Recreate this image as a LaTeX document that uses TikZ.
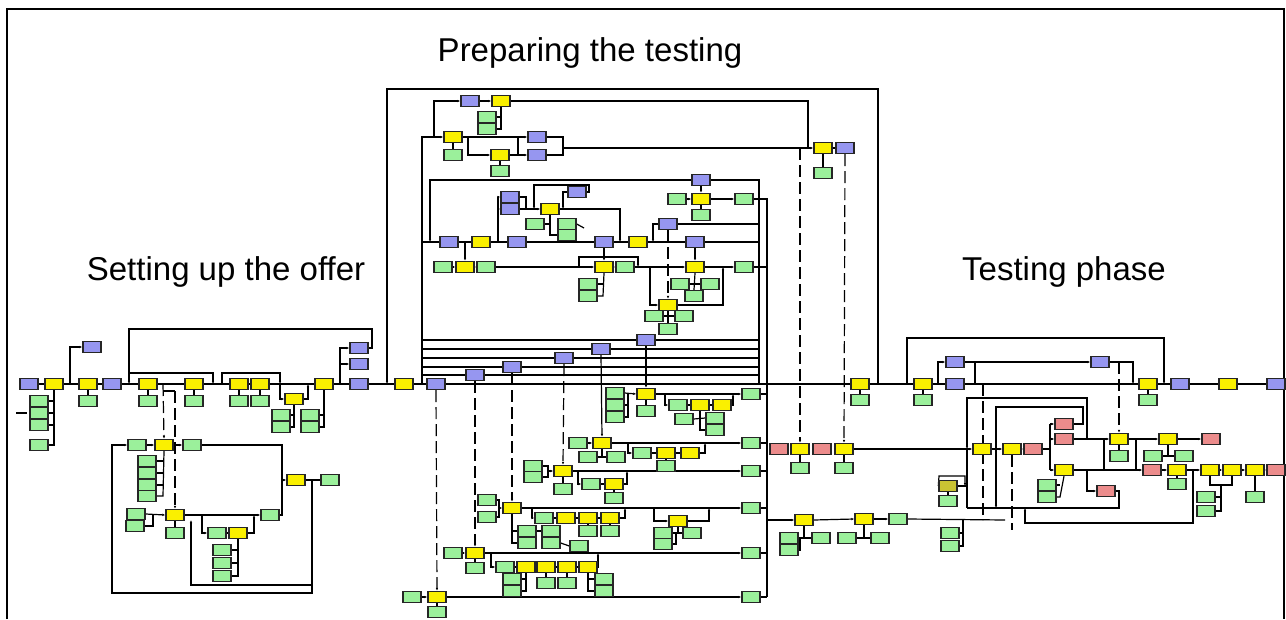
\documentclass[tikz,border=0pt]{standalone}
\usepackage{fontspec}
\setmainfont{Liberation Sans}
\usetikzlibrary{arrows.meta,backgrounds}
\definecolor{cb}{RGB}{150,150,240}
\definecolor{cy}{RGB}{250,240,0}
\definecolor{cg}{RGB}{155,240,155}
\definecolor{cr}{RGB}{236,140,140}
\newcommand\mkbox[4]{\node[#1] (#2) at (#3,#4) {};}
\tikzset{
  box/.style={draw=black!85, line width=1.4pt, minimum width=18pt, minimum height=11pt, inner sep=0pt},
  bb/.style={box, fill=cb},
  yb/.style={box, fill=cy},
  gb/.style={box, fill=cg},
  rb/.style={box, fill=cr},
  ln/.style={line width=1.2pt},
  dsh/.style={line width=1.2pt, dash pattern=on 12pt off 5pt},
  ttl/.style={font=\fontsize{33pt}{38pt}\selectfont, inner sep=0pt},
  >={Latex[length=3pt,width=2.6pt]}
}
\begin{document}
\begin{tikzpicture}[x=1pt,y=-1pt]
\useasboundingbox (0,0) rectangle (1286,619);
\draw[line width=1.2pt] (7,619) -- (7,9) -- (1284,9) -- (1284,619);
\node[ttl] (tprep) at (590,53) {Preparing the testing};
\node[ttl] (tset) at (226,272) {Setting up the offer};
\node[ttl] (ttest) at (1064,272) {Testing phase};

% ---------------- Setting up the offer
\mkbox{bb}{s1}{29}{384}
\mkbox{yb}{s2}{54}{384}
\mkbox{bb}{s3}{92}{347}
\mkbox{yb}{s4}{88}{384} \mkbox{gb}{s4g}{88}{401}
\mkbox{bb}{s5}{112}{384}
\mkbox{yb}{s6}{148}{384} \mkbox{gb}{s6g}{148}{401}
\mkbox{yb}{s7}{194}{384} \mkbox{gb}{s7g}{194}{401}
\mkbox{yb}{s8}{239}{384} \mkbox{gb}{s8g}{239}{401}
\mkbox{yb}{s9}{260}{384} \mkbox{gb}{s9g}{260}{401}
\mkbox{yb}{s10}{294}{399}
\mkbox{gb}{s10a}{281}{415} \mkbox{gb}{s10b}{281}{427}
\mkbox{gb}{s10c}{310}{415} \mkbox{gb}{s10d}{310}{427}
\mkbox{yb}{s11}{324}{384}
\mkbox{bb}{s12}{359}{348} \mkbox{bb}{s13}{359}{364} \mkbox{bb}{s14}{359}{384}
\mkbox{gb}{g1}{39}{401} \mkbox{gb}{g2}{39}{413} \mkbox{gb}{g3}{39}{425} \mkbox{gb}{g4}{39}{445}
% lower loop
\mkbox{gb}{l1}{137}{445} \mkbox{yb}{l2}{164}{445} \mkbox{gb}{l3}{192}{445}
\mkbox{gb}{l4}{147}{461} \mkbox{gb}{l5}{147}{473} \mkbox{gb}{l6}{147}{485} \mkbox{gb}{l7}{147}{496}
\mkbox{yb}{l8}{296}{480} \mkbox{gb}{l9}{330}{480}
\mkbox{yb}{l10}{175}{515} \mkbox{gb}{l11}{175}{533}
\mkbox{gb}{l12}{136}{514} \mkbox{gb}{l13}{135}{526}
\mkbox{gb}{l14}{270}{515}
\mkbox{gb}{l15}{217}{533} \mkbox{yb}{l16}{238}{533}
\mkbox{gb}{l17}{222}{550} \mkbox{gb}{l18}{222}{563} \mkbox{gb}{l19}{222}{576}

% ---------------- Preparing the testing
\mkbox{bb}{p1}{470}{101} \mkbox{yb}{p2}{501}{101}
\mkbox{gb}{p3}{487}{117} \mkbox{gb}{p4}{487}{129}
\mkbox{yb}{p5}{453}{137} \mkbox{gb}{p6}{453}{155}
\mkbox{bb}{p7}{537}{137} \mkbox{yb}{p8}{500}{155} \mkbox{gb}{p9}{500}{171} \mkbox{bb}{p10}{537}{155}
\mkbox{yb}{p11}{823}{148} \mkbox{bb}{p12}{845}{148} \mkbox{gb}{p13}{823}{173}
% row 242
\mkbox{bb}{q1}{449}{242} \mkbox{yb}{q2}{481}{242} \mkbox{bb}{q3}{517}{242}
\mkbox{bb}{q4}{604}{242} \mkbox{yb}{q5}{638}{242} \mkbox{bb}{q6}{695}{242}
% upper cluster
\mkbox{bb}{u1}{510}{197} \mkbox{bb}{u2}{510}{209} \mkbox{yb}{u3}{550}{209} \mkbox{bb}{u4}{577}{192}
\mkbox{gb}{u5}{535}{224} \mkbox{gb}{u6}{567}{224} \mkbox{gb}{u7}{567}{235}
\mkbox{gb}{u8}{677}{199} \mkbox{yb}{u9}{701}{199} \mkbox{gb}{u10}{744}{199}
\mkbox{bb}{u11}{701}{180} \mkbox{gb}{u12}{701}{215} \mkbox{bb}{u13}{668}{224}
% row 267
\mkbox{gb}{r1}{443}{267} \mkbox{yb}{r2}{465}{267} \mkbox{gb}{r3}{486}{267}
\mkbox{yb}{r4}{604}{267} \mkbox{gb}{r5}{625}{267} \mkbox{yb}{r6}{695}{267} \mkbox{gb}{r7}{744}{267}
\mkbox{gb}{r8}{588}{284} \mkbox{gb}{r9}{588}{296}
\mkbox{yb}{r10}{668}{305} \mkbox{gb}{r11}{654}{316} \mkbox{gb}{r12}{684}{316} \mkbox{gb}{r13}{668}{329}
\mkbox{gb}{r14}{680}{284} \mkbox{gb}{r15}{710}{284} \mkbox{gb}{r16}{694}{296}
% blues on horizontal lines
\mkbox{bb}{h1}{646}{340} \mkbox{bb}{h2}{601}{349} \mkbox{bb}{h3}{564}{358}
\mkbox{bb}{h4}{512}{367} \mkbox{bb}{h5}{475}{375}
\mkbox{yb}{m1}{404}{384} \mkbox{bb}{m2}{436}{384}
% row A
\mkbox{yb}{a1}{646}{394} \mkbox{gb}{a2}{646}{411}
\mkbox{gb}{a3}{615}{393} \mkbox{gb}{a4}{615}{405} \mkbox{gb}{a5}{615}{417}
\mkbox{gb}{a6}{751}{394}
\mkbox{gb}{a7}{678}{405} \mkbox{yb}{a8}{700}{405} \mkbox{yb}{a9}{722}{405}
\mkbox{gb}{a10}{684}{419} \mkbox{gb}{a11}{715}{418} \mkbox{gb}{a12}{715}{430}
% row B
\mkbox{yb}{b1}{602}{443} \mkbox{gb}{b2}{578}{443} \mkbox{gb}{b3}{588}{457} \mkbox{gb}{b4}{616}{457}
\mkbox{gb}{b5}{751}{443}
\mkbox{gb}{b6}{642}{453} \mkbox{yb}{b7}{666}{453} \mkbox{yb}{b8}{690}{453} \mkbox{gb}{b9}{666}{466}
% row C
\mkbox{yb}{c1}{563}{471} \mkbox{gb}{c2}{533}{466} \mkbox{gb}{c3}{533}{477} \mkbox{gb}{c4}{563}{489}
\mkbox{gb}{c5}{751}{471}
\mkbox{gb}{c6}{591}{484} \mkbox{yb}{c7}{614}{484} \mkbox{gb}{c8}{614}{498}
% row D
\mkbox{yb}{d1}{512}{508} \mkbox{gb}{d2}{487}{500} \mkbox{gb}{d3}{487}{517}
\mkbox{gb}{d4}{751}{508}
\mkbox{gb}{d5}{544}{518} \mkbox{yb}{d6}{566}{518} \mkbox{yb}{d7}{588}{518} \mkbox{yb}{d8}{610}{518}
\mkbox{gb}{d9}{527}{531} \mkbox{gb}{d10}{527}{543} \mkbox{gb}{d11}{551}{531} \mkbox{gb}{d12}{551}{543}
\mkbox{gb}{d13}{579}{546} \mkbox{gb}{d14}{588}{531} \mkbox{gb}{d15}{610}{531}
\mkbox{yb}{d16}{678}{521} \mkbox{gb}{d17}{663}{533} \mkbox{gb}{d18}{663}{544} \mkbox{gb}{d19}{692}{533}
% row E
\mkbox{yb}{e1}{475}{553} \mkbox{gb}{e2}{453}{553} \mkbox{gb}{e3}{475}{568}
\mkbox{gb}{e4}{751}{553}
\mkbox{gb}{e5}{505}{567} \mkbox{yb}{e6}{526}{567} \mkbox{yb}{e7}{546}{567} \mkbox{yb}{e8}{567}{567} \mkbox{yb}{e9}{588}{567}
\mkbox{gb}{e10}{512}{579} \mkbox{gb}{e11}{512}{591} \mkbox{gb}{e12}{546}{583} \mkbox{gb}{e13}{567}{583}
\mkbox{gb}{e14}{604}{579} \mkbox{gb}{e15}{604}{591}
% row F
\mkbox{yb}{f1}{437}{597} \mkbox{gb}{f2}{412}{597} \mkbox{gb}{f3}{437}{612} \mkbox{gb}{f4}{751}{597}

% ---------------- Testing phase
\mkbox{yb}{t1}{860}{384} \mkbox{gb}{t1g}{860}{400}
\mkbox{yb}{t2}{923}{384} \mkbox{gb}{t2g}{923}{400}
\mkbox{bb}{t3}{955}{362} \mkbox{bb}{t4}{955}{384}
\mkbox{bb}{t5}{1100}{362}
\mkbox{yb}{t6}{1148}{384} \mkbox{gb}{t6g}{1148}{400}
\mkbox{bb}{t7}{1180}{384} \mkbox{yb}{t8}{1228}{384} \mkbox{bb}{t9}{1276}{384}
\mkbox{rb}{w1}{779}{449} \mkbox{yb}{w2}{800}{449} \mkbox{rb}{w3}{822}{449} \mkbox{yb}{w4}{844}{449}
\mkbox{gb}{w2g}{800}{468} \mkbox{gb}{w4g}{844}{468}
\mkbox{yb}{w5}{982}{449} \mkbox{yb}{w6}{1012}{449} \mkbox{rb}{w7}{1033}{449}
\mkbox{rb}{w8}{1064}{424} \mkbox{rb}{w9}{1064}{439} \mkbox{yb}{w10}{1064}{470}
\mkbox{gb}{w11}{1047}{485} \mkbox{gb}{w12}{1047}{497} \mkbox{rb}{w13}{1106}{491}
\mkbox{yb}{w14}{1119}{439} \mkbox{gb}{w15}{1119}{456}
\mkbox{yb}{w16}{1168}{439} \mkbox{rb}{w17}{1211}{439}
\mkbox{gb}{w18}{1153}{456} \mkbox{gb}{w19}{1184}{456}
\mkbox{rb}{w20}{1152}{470} \mkbox{yb}{w21}{1177}{470} \mkbox{gb}{w22}{1177}{484}
\mkbox{yb}{w23}{1210}{470} \mkbox{yb}{w24}{1232}{470} \mkbox{yb}{w25}{1255}{470} \mkbox{rb}{w26}{1276}{470}
\mkbox{gb}{w27}{1206}{497} \mkbox{gb}{w28}{1206}{511} \mkbox{gb}{w29}{1255}{497}
\mkbox{yb}{v1}{804}{520} \mkbox{yb}{v2}{864}{519} \mkbox{gb}{v3}{898}{519}
\mkbox{gb}{v4}{789}{538} \mkbox{gb}{v5}{789}{550} \mkbox{gb}{v6}{821}{538}
\mkbox{gb}{v7}{847}{538} \mkbox{gb}{v8}{880}{538}
\mkbox{gb}{v9}{950}{533} \mkbox{gb}{v10}{950}{546}
\node[box, fill=cy!60!gray] (v11) at (948,486) {};
\mkbox{gb}{v12}{948}{501}

\begin{pgfonlayer}{background}
% main line
\draw[ln] (s1.east) -- (t9.west);
% setting up
\draw[ln] (s2.south) -- (54,445) -- (g4.east);
\foreach \g/\y in {g1/401,g2/413,g3/425} \draw[ln] (\g.east) -- (54,\y);
\draw[ln] (16,413) -- (27,413);
\draw[ln,->] (70,384) |- (s3.west);
\foreach \a in {s4,s6,s7,s8,s9} \draw[ln] (\a.south) -- (\a g.north);
\draw[ln,->] (s12.east) -- (372,348) -- (372,329) -- (129,329) -- (129,384);
\draw[ln,->] (129,373) -- (213,373) -- (213,384);
\draw[ln,->] (222,384) -- (222,373) -- (280,373) -- (280,384);
\draw[ln,->] (280,384) |- (s10.west);
\draw[ln,->] (s10.east) -| (308,384);
\draw[ln] (s10.south) -- (294,427) -- (s10b.east); \draw[ln] (s10a.east) -- (294,415);
\draw[ln] (s11.south) -- (324,427) -- (s10d.east); \draw[ln] (s10c.east) -- (324,415);
\draw[ln,->] (340,384) |- (s12.west); \draw[ln,->] (340,364) -- (s13.west);
% lower loop
\draw[dsh,->] (163,384) -- (l2.north);
\draw[dsh,->] (175,391) -- (l10.north);
\draw[ln] (163,391) -- (175,391);
\draw[ln,->] (l1.east) -- (l2.west); \draw[ln,->] (l2.east) -- (l3.west);
\draw[ln,->] (312,585) -- (312,593) -- (112,593) -- (112,445) -- (l1.west);
\draw[ln] (l8.east) -- (l9.west); \draw[ln] (312,480) -- (312,593);
\draw[ln] (l3.east) -| (282,515) -- (l14.east); \draw[ln,->] (282,480) -- (l8.west);
\draw[ln] (l2.south) -- (163,496) -- (l7.east);
\foreach \g/\y in {l4/461,l5/473,l6/485} \draw[ln] (\g.east) -- (163,\y);
\draw[ln,->] (l12.east) -- (l10.west); \draw[ln] (l13.east) -| (153,515);
\draw[ln] (l10.south) -- (l11.north);
\draw[ln,->] (l10.east) -- (l14.west);
\draw[ln,->] (202,515) |- (l15.west); \draw[ln] (l15.east) -- (l16.west);
\draw[ln,->] (l16.east) -| (254,515);
\draw[ln] (l16.south) -- (238,576) -- (l19.east);
\draw[ln] (l17.east) -- (238,550); \draw[ln] (l18.east) -- (238,563);
\draw[ln,->] (312,585) -- (191,585) -- (191,520);
% preparing: frames
\draw[ln,->] (878,384) -- (878,89) -- (387,89) -- (387,384);
\draw[ln,->] (422,384) -- (422,137) -- (p5.west);
\draw[ln,->] (434,137) |- (p1.west);
\draw[ln,->] (p1.east) -- (p2.west);
\draw[ln,->] (p2.east) -- (808,101) -- (808,148) -- (p11.west);
\draw[ln] (p2.south) -- (501,129) -- (p4.east); \draw[ln] (p3.east) -- (501,117);
\draw[ln] (p5.south) -- (p6.north);
\draw[ln,->] (p5.east) -- (p7.west);
\draw[ln,->] (468,137) |- (p8.west); \draw[ln,->] (p8.east) -- (p10.west);
\draw[ln] (518,137) -- (518,155); \draw[ln] (p8.south) -- (p9.north);
\draw[ln] (p7.east) -| (563,148); \draw[ln] (p10.east) -| (563,148); \draw[ln] (563,148) -- (808,148);
\draw[ln] (p11.south) -- (p13.north); \draw[ln] (p11.east) -- (p12.west);
\draw[dsh,->] (800,148) -- (w2.north);
\draw[dsh,->] (p12.south) -- (w4.north);
\draw[ln,->] (759,384) -- (759,180) -- (430,180) -- (430,242);
\draw[ln] (422,242) -- (759,242);
\draw[ln,->] (465,242) -- (r2.north);
\draw[ln,->] (498,242) |- (u1.west); \draw[ln,->] (498,209) -- (u2.west);
\draw[ln,->] (u2.east) -- (u3.west); \draw[ln] (u1.east) -| (526,209);
\draw[ln,->] (u4.east) -| (589,185) -| (534,209);
\draw[ln,->] (u4.west) -| (563,209);
\draw[ln,->] (u3.east) -- (620,209) -- (620,242);
\draw[ln] (u5.east) -- (550,224); \draw[ln] (u3.south) -- (550,235) -- (u7.west);
\draw[ln] (u6.east) -- (584,228);
\draw[ln,->] (u8.east) -- (u9.west); \draw[ln,->] (u9.east) -- (u10.west);
\draw[ln] (u10.east) -- (767,199) -- (767,597);
\draw[ln,->] (u11.south) -- (u9.north); \draw[ln] (u9.south) -- (u12.north);
\draw[ln] (u13.east) -- (759,224); \draw[ln,->] (u13.west) -- (653,224) -- (653,242);
\draw[dsh,->] (u13.south) -- (r10.north);
\draw[ln,->] (r1.east) -- (r2.west); \draw[ln,->] (r2.east) -- (r3.west);
\draw[ln,->] (r3.east) -- (r4.west); \draw[ln,->] (r4.east) -- (r5.west);
\draw[ln,->] (r5.east) -- (r6.west); \draw[ln,->] (r6.east) -- (r7.west); \draw[ln] (r7.east) -- (767,267);
\draw[ln,->] (q4.south) -- (r4.north);
\draw[ln,->] (579,267) -- (579,257) -- (638,257) -- (638,267);
\draw[ln] (r4.south) -- (603,296) -- (r9.east); \draw[ln] (r8.east) -- (603,284);
\draw[ln,->] (650,267) |- (r10.west); \draw[ln,->] (r10.east) -| (723,267);
\draw[ln] (r10.south) -- (r13.north); \draw[ln] (r11.east) -- (r12.west);
\draw[ln,->] (q6.south) -- (r6.north); \draw[ln] (r6.south) -- (r16.north); \draw[ln] (r14.east) -- (r15.west);
\foreach \y in {340,349,358,367,375} \draw[ln] (422,\y) -- (759,\y);
\draw[ln,->] (h1.south) -- (a1.north);
\draw[ln,->] (h2.south) -- (b1.north);
\draw[dsh,->] (h3.south) -- (c1.north);
\draw[dsh,->] (h4.south) -- (d1.north);
\draw[dsh,->] (h5.south) -- (e1.north);
\draw[dsh,->] (m2.south) -- (f1.north);
% row A
\draw[ln,->] (a3.east) -- (a1.west); \draw[ln] (a5.east) -| (628,394); \draw[ln] (a4.east) -- (628,405);
\draw[ln] (a1.south) -- (a2.north); \draw[ln,->] (a1.east) -- (a6.west); \draw[ln] (a6.east) -- (767,394);
\draw[ln,->] (665,394) |- (a7.west); \draw[ln] (a7.east) -- (a8.west); \draw[ln] (a8.east) -- (a9.west);
\draw[ln,->] (a9.east) -| (733,394);
\draw[ln] (a10.east) -- (a11.west); \draw[ln] (a8.south) |- (a12.west);
% row B
\draw[ln,->] (b2.east) -- (b1.west); \draw[ln,->] (b1.east) -- (b5.west); \draw[ln] (b5.east) -- (767,443);
\draw[ln] (b3.east) -- (b4.west); \draw[ln] (b1.south) -- (602,457);
\draw[ln,->] (628,443) |- (b6.west); \draw[ln] (b6.east) -- (b7.west); \draw[ln] (b7.east) -- (b8.west);
\draw[ln,->] (b8.east) -| (705,443); \draw[ln] (b7.south) -- (b9.north);
% row C
\draw[ln] (c2.east) -- (548,466) -- (548,477) -- (c3.east); \draw[ln,->] (548,471) -- (c1.west);
\draw[ln] (c1.south) -- (c4.north); \draw[ln,->] (c1.east) -- (c5.west); \draw[ln] (c5.east) -- (767,471);
\draw[ln,->] (578,471) |- (c6.west); \draw[ln] (c6.east) -- (c7.west); \draw[ln,->] (c7.east) -| (627,471);
\draw[ln] (c7.south) -- (c8.north);
% row D
\draw[ln] (d2.east) -- (499,500) -- (499,517) -- (d3.east); \draw[ln,->] (499,508) -- (d1.west);
\draw[ln,->] (d1.east) -- (d4.west); \draw[ln] (d4.east) -- (767,508);
\draw[ln,->] (532,508) |- (d5.west); \draw[ln] (d5.east) -- (d6.west); \draw[ln] (d6.east) -- (d7.west);
\draw[ln] (d7.east) -- (d8.west); \draw[ln,->] (d8.east) -| (625,508);
\draw[ln] (d1.south) -- (512,543) -- (d10.west); \draw[ln] (512,531) -- (d9.west);
\draw[ln] (d9.east) -- (d11.west); \draw[ln] (d12.east) -- (d13.west);
\draw[ln] (d7.south) -- (d14.north); \draw[ln] (d8.south) -- (d15.north);
\draw[ln,->] (654,508) |- (d16.west); \draw[ln,->] (d16.east) -| (709,508);
\draw[ln] (d17.east) -- (d19.west); \draw[ln] (d18.east) -| (676,533); \draw[ln] (d16.south) -- (678,533);
% row E
\draw[ln,->] (e2.east) -- (e1.west); \draw[ln] (e1.south) -- (e3.north);
\draw[ln,->] (e1.east) -- (e4.west); \draw[ln] (e4.east) -- (767,553);
\draw[ln,->] (491,553) |- (e5.west); \draw[ln] (e5.east) -- (e6.west); \draw[ln] (e6.east) -- (e7.west);
\draw[ln] (e7.east) -- (e8.west); \draw[ln] (e8.east) -- (e9.west); \draw[ln,->] (e9.east) -| (598,553);
\draw[ln] (e6.south) -- (526,591) -- (e11.east); \draw[ln] (e10.east) -- (526,579);
\draw[ln] (e7.south) -- (e12.north); \draw[ln] (e8.south) -- (e13.north);
\draw[ln] (e9.south) -- (588,591) -- (e15.west); \draw[ln] (588,579) -- (e14.west);
% row F
\draw[ln,->] (f2.east) -- (f1.west); \draw[ln] (f1.south) -- (f3.north);
\draw[ln,->] (f1.east) -- (f4.west); \draw[ln] (f4.east) -- (767,597);
% testing
\draw[ln] (t1.south) -- (t1g.north); \draw[ln] (t2.south) -- (t2g.north); \draw[ln] (t6.south) -- (t6g.north);
\draw[ln,->] (907,384) -- (907,338) -- (1164,338) -- (1164,384);
\draw[ln,->] (938,384) |- (t3.west); \draw[ln,->] (t3.east) -- (t5.west); \draw[ln] (975,362) -- (975,384);
\draw[ln,->] (t5.east) -- (1133,362) -- (1133,384);
\draw[dsh,->] (1119,362) -- (w14.north);
\draw[dsh] (983,384) -- (983,520);
\draw[dsh] (1012,455) -- (1012,530);
\draw[ln,->] (767,520) -- (v1.west); \draw[ln,->] (v1.east) -- (v2.west); \draw[ln,->] (v2.east) -- (v3.west);
\draw[ln] (v3.east) -- (1005,520);
\draw[ln] (v1.south) -- (804,538); \draw[ln] (v4.east) -- (v6.west); \draw[ln] (v5.east) -| (800,538);
\draw[ln] (v2.south) -- (864,538); \draw[ln] (v7.east) -- (v8.west);
\draw[ln,->] (w4.east) -- (w5.west); \draw[ln] (w2.south) -- (w2g.north); \draw[ln] (w4.south) -- (w4g.north);
\draw[ln,->] (w5.east) -- (w6.west); \draw[ln,->] (w6.east) -- (w7.west);
\draw[ln] (w7.east) -- (1050,449); \draw[ln] (1050,424) -- (1050,470);
\draw[ln,->] (1050,424) -- (w8.west); \draw[ln,->] (1050,439) -- (w9.west); \draw[ln,->] (1050,470) -- (w10.west);
\draw[ln,->] (w8.east) -- (1083,424) -- (1083,407) -- (996,407) -- (996,508);
\draw[ln,->] (1087,439) -- (1087,398) -- (967,398) -- (967,449);
\draw[ln] (967,449) -- (967,508);
\draw[ln,->] (w9.east) -- (w14.west); \draw[ln,->] (w10.east) -- (w20.west);
\draw[ln] (1104,439) -- (1104,470);
\draw[ln,->] (w14.east) -- (w16.west); \draw[ln] (1136,439) -- (1136,470);
\draw[ln,->] (w16.east) -- (w17.west);
\draw[ln,->] (1087,470) -- (1087,491) -- (w13.west);
\draw[ln] (w13.east) -- (1119,491) -- (1119,508) -- (967,508);
\draw[ln] (w14.south) -- (w15.north); \draw[ln] (w18.east) -- (w19.west); \draw[ln] (w16.south) -- (1168,456);
\draw[ln] (w10.south) -- (1060,497) -- (w12.east); \draw[ln] (w11.east) -- (1060,485);
\draw[ln,->] (w20.east) -- (w21.west); \draw[ln,->] (w21.east) -- (w23.west);
\draw[ln,->] (w23.east) -- (w24.west); \draw[ln,->] (w24.east) -- (w25.west); \draw[ln,->] (w25.east) -- (w26.west);
\draw[ln] (w21.south) -- (w22.north);
\draw[ln] (w23.south) -- (1210,485) -- (1232,485) -- (w24.south);
\draw[ln] (1221,485) -- (1221,511) -- (w28.east); \draw[ln] (w27.east) -- (1221,497);
\draw[ln] (w25.south) -- (w29.north);
\draw[ln,->] (1193,470) -- (1193,523) -- (1025,523) -- (1025,508);
\draw[ln,->] (v11.west) -- (939,476) -- (965,476) -- (965,486);
\draw[ln] (v11.east) -- (967,486); \draw[ln] (v11.south) -- (v12.north);
\draw[ln] (963,520) -- (963,546) -- (v10.east); \draw[ln] (v9.east) -- (963,533);
\end{pgfonlayer}
\end{tikzpicture}
\end{document}
